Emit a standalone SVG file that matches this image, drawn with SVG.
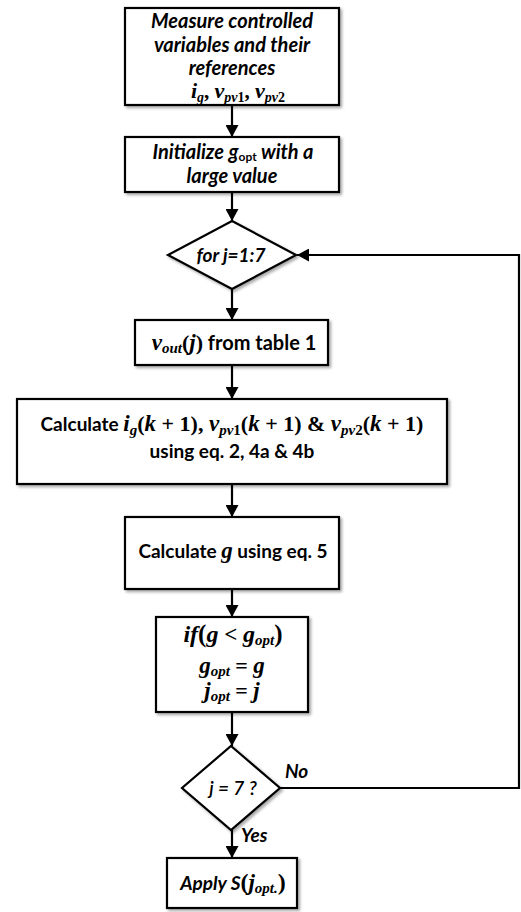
<svg xmlns="http://www.w3.org/2000/svg" width="521" height="912" viewBox="0 0 521 912">
<defs>
<marker id="ah" markerUnits="userSpaceOnUse" markerWidth="13" markerHeight="13" refX="12" refY="6.5" orient="auto">
<path d="M0,0 L12,6.5 L0,13 z" fill="#000"/>
</marker>
<filter id="sh" x="-10%" y="-10%" width="130%" height="130%">
<feGaussianBlur in="SourceAlpha" stdDeviation="1.5"/>
<feOffset dx="2" dy="2" result="o"/>
<feComponentTransfer><feFuncA type="linear" slope="0.35"/></feComponentTransfer>
<feMerge><feMergeNode/><feMergeNode in="SourceGraphic"/></feMerge>
</filter>
</defs>
<style>
.box{fill:#fff;stroke:#000;stroke-width:2.2;filter:url(#sh)}
.ln{fill:none;stroke:#000;stroke-width:2.2}
.ti{font-family:Lato,"Open Sans",sans-serif;font-weight:bold;font-style:italic;font-size:20px;text-anchor:middle;fill:#000}
.tb{font-family:Lato,"Open Sans",sans-serif;font-weight:bold;font-size:19px;text-anchor:middle;fill:#000}
.lab{font-family:Lato,"Open Sans",sans-serif;font-weight:bold;font-style:italic;font-size:19px;fill:#000}
.m{font-family:"Liberation Serif",serif;font-style:italic;font-weight:bold;font-size:23px}
.r{font-family:"Liberation Serif",serif;font-style:normal;font-weight:bold;font-size:22px}
.s{font-size:15px}
</style>
<rect width="521" height="912" fill="#fff"/>

<g id="connectors">
<line class="ln" x1="232" y1="105" x2="232" y2="137" marker-end="url(#ah)"/>
<line class="ln" x1="232" y1="192" x2="232" y2="221" marker-end="url(#ah)"/>
<line class="ln" x1="232" y1="289" x2="232" y2="320" marker-end="url(#ah)"/>
<line class="ln" x1="232" y1="365" x2="232" y2="399" marker-end="url(#ah)"/>
<line class="ln" x1="232" y1="484" x2="232" y2="517" marker-end="url(#ah)"/>
<line class="ln" x1="232" y1="589" x2="232" y2="617" marker-end="url(#ah)"/>
<line class="ln" x1="232" y1="712" x2="232" y2="746" marker-end="url(#ah)"/>
<line class="ln" x1="232" y1="830" x2="232" y2="858" marker-end="url(#ah)"/>
<polyline class="ln" points="280,788 519,788 519,255 297,255" marker-end="url(#ah)"/>
<text class="lab" x="285" y="778">No</text>
<text class="lab" x="241" y="842">Yes</text>
</g>

<g id="measure">
<rect class="box" x="125" y="8" width="214" height="97"/>
<text class="ti" x="232" y="28">Measure controlled</text>
<text class="ti" x="232" y="52">variables and their</text>
<text class="ti" x="232" y="75">references</text>
<text class="ti" x="238" y="98"><tspan class="m" style="font-size:22px">i</tspan><tspan class="m" dy="4" style="font-size:14px">g</tspan><tspan class="r" dy="-4" style="font-size:21px">, </tspan><tspan class="m" style="font-size:22px">v</tspan><tspan class="m" dy="4" style="font-size:14px">pv</tspan><tspan class="r" style="font-size:14px">1</tspan><tspan class="r" dy="-4" style="font-size:21px">, </tspan><tspan class="m" style="font-size:22px">v</tspan><tspan class="m" dy="4" style="font-size:14px">pv</tspan><tspan class="r" style="font-size:14px">2</tspan></text>
</g>

<g id="init">
<rect class="box" x="125" y="137" width="214" height="55"/>
<text class="ti" x="233" y="159">Initialize g<tspan style="font-size:12px;font-style:normal" dy="2">opt</tspan><tspan dy="-2"> with a</tspan></text>
<text class="ti" x="232" y="183">large value</text>
</g>

<g id="loop">
<polygon class="box" points="232,221 296,255 232,289 168,255"/>
<text class="ti" x="231" y="262" style="font-size:19px">for j=1:7</text>
</g>

<g id="vout">
<rect class="box" x="135" y="320" width="193" height="45"/>
<text class="tb" x="234" y="350" style="font-size:20px"><tspan class="m">v</tspan><tspan class="m s" dy="3">out</tspan><tspan class="r" dy="-3">(</tspan><tspan class="m">j</tspan><tspan class="r">)</tspan> from table 1</text>
</g>

<g id="calc">
<rect class="box" x="17" y="399" width="430" height="85"/>
<text class="tb" x="232" y="431">Calculate <tspan class="m">i</tspan><tspan class="m s" dy="4">g</tspan><tspan class="r" dy="-4">(</tspan><tspan class="m">k</tspan><tspan class="r"> + 1), </tspan><tspan class="m">v</tspan><tspan class="m s" dy="4">pv</tspan><tspan class="r s">1</tspan><tspan class="r" dy="-4">(</tspan><tspan class="m">k</tspan><tspan class="r"> + 1) &amp; </tspan><tspan class="m">v</tspan><tspan class="m s" dy="4">pv</tspan><tspan class="r s">2</tspan><tspan class="r" dy="-4">(</tspan><tspan class="m">k</tspan><tspan class="r"> + 1)</tspan></text>
<text class="tb" x="232" y="458">using eq. 2, 4a &amp; 4b</text>
</g>

<g id="calcg">
<rect class="box" x="125" y="517" width="214" height="72"/>
<text class="tb" x="233" y="558">Calculate <tspan class="m">g</tspan> using eq. 5</text>
</g>

<g id="cond">
<rect class="box" x="156" y="617" width="152" height="95"/>
<text class="tb" x="233" y="642"><tspan class="m" style="font-size:24px">if</tspan><tspan class="r" style="font-size:25px">(</tspan><tspan class="m" style="font-size:24px">g</tspan><tspan class="r" style="font-size:23px"> &lt;  </tspan><tspan class="m" style="font-size:24px">g</tspan><tspan class="m" dy="3" style="font-size:15px">opt</tspan><tspan class="r" dy="-3" style="font-size:25px">)</tspan></text>
<text class="tb" x="232" y="673"><tspan class="m" style="font-size:23px">g</tspan><tspan class="m" dy="3" style="font-size:15px">opt</tspan><tspan class="r" dy="-3" style="font-size:22px"> = </tspan><tspan class="m" style="font-size:23px">g</tspan></text>
<text class="tb" x="232" y="698"><tspan class="m" style="font-size:23px">j</tspan><tspan class="m" dy="3" style="font-size:15px">opt</tspan><tspan class="r" dy="-3" style="font-size:22px"> = </tspan><tspan class="m" style="font-size:23px">j</tspan></text>
</g>

<g id="check">
<polygon class="box" points="231,746 280,788 231,830 182,788"/>
<text class="ti" x="233" y="795" style="font-size:19px;font-weight:600">j = 7 ?</text>
</g>

<g id="apply">
<rect class="box" x="167" y="858" width="130" height="50"/>
<text class="ti" x="233" y="890" style="font-size:19px">Apply S<tspan class="r" style="font-size:24px">(</tspan><tspan class="m">j</tspan><tspan class="m s" dy="3">opt.</tspan><tspan class="r" dy="-3" style="font-size:24px">)</tspan></text>
</g>
</svg>
